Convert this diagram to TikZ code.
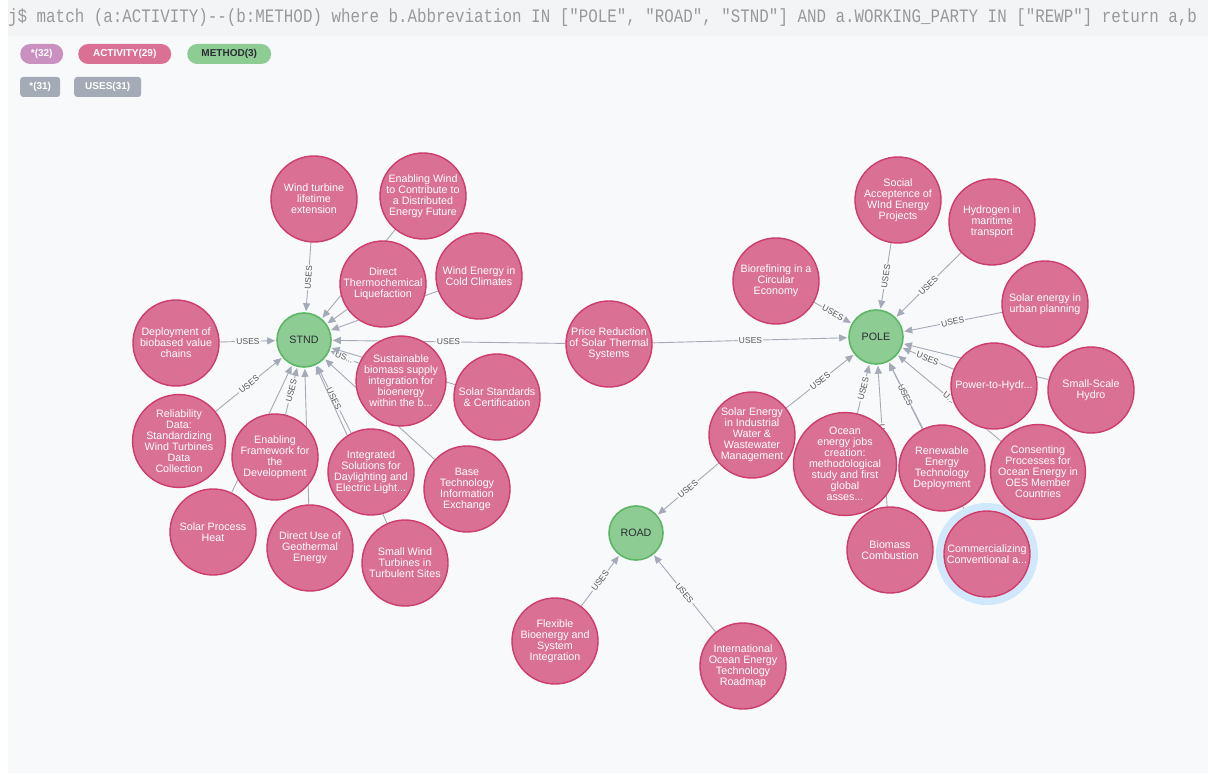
\documentclass[tikz,border=0pt]{standalone}
\usepackage{fontspec}
\usepackage{graphicx}
\setmainfont{Liberation Sans}
\setmonofont{Liberation Mono}
\usetikzlibrary{arrows.meta}
\definecolor{panelbg}{HTML}{F8F9FB}
\definecolor{querybg}{HTML}{F3F4F6}
\definecolor{querytext}{HTML}{999999}
\definecolor{actfill}{HTML}{DA7194}
\definecolor{actline}{HTML}{CC3C6C}
\definecolor{methfill}{HTML}{8DCC93}
\definecolor{methline}{HTML}{5DB665}
\definecolor{methtext}{HTML}{2A2C34}
\definecolor{anyfill}{HTML}{C990C0}
\definecolor{relgray}{HTML}{A5ABB6}
\definecolor{lblgray}{HTML}{555555}
\definecolor{selring}{HTML}{CFE8FC}
\pgfdeclarelayer{back}
\pgfdeclarelayer{edges}
\pgfsetlayers{back,edges,main}
\tikzset{%
  activity/.style = {circle, draw=actline, line width=1.4pt, fill=actfill,%
                     minimum size=86pt, inner sep=0pt, align=center,%
                     text=white, font=\fontsize{10.7}{11}\selectfont},%
  method/.style   = {circle, draw=methline, line width=1.6pt, fill=methfill,%
                     minimum size=54pt, inner sep=0pt,%
                     text=methtext, font=\fontsize{10.7}{12}\selectfont},%
  uses/.style     = {draw=relgray, line width=0.9pt,%
                     -{Triangle[length=8pt,width=7pt]}, shorten >=1pt},%
  lbl/.style      = {sloped, fill=panelbg, inner sep=1.2pt, text=lblgray,%
                     font=\fontsize{8.5}{9}\selectfont},%
  pill/.style     = {rounded corners=10pt, anchor=west, minimum height=20pt,%
                     inner sep=0pt, text=white,%
                     font=\bfseries\fontsize{10}{11}\selectfont},%
  tag/.style      = {pill, rounded corners=3pt, fill=relgray}%
}
\begin{document}
\begin{tikzpicture}[x=1pt,y=-1pt]
\useasboundingbox (0,0) rectangle (1208,775);
\begin{pgfonlayer}{back}
\fill[white] (0,0) rectangle (1208,775);
\fill[querybg] (8,0) rectangle (1208,36);
\fill[panelbg] (8,36) rectangle (1208,773);
\end{pgfonlayer}
\node (query) [anchor=west, inner sep=0pt, text=querytext,
  font=\ttfamily\fontsize{15.85}{16}\selectfont] at (8,18)
  {\scalebox{1}[1.2]{j\$ match (a:ACTIVITY)--(b:METHOD) where b.Abbreviation IN ["POLE", "ROAD", "STND"] AND a.WORKING\_PARTY IN ["REWP"] return a,b}};

\node (anyn)  [pill, fill=anyfill, minimum width=43pt] at (20,54) {*(32)};
\node (actn)  [pill, fill=actfill, minimum width=93pt] at (78,54) {ACTIVITY(29)};
\node (methn) [pill, fill=methfill, text=methtext, minimum width=84pt] at (187,54) {METHOD(3)};
\node (anyr)  [tag, minimum width=40pt] at (20,87) {*(31)};
\node (usesr) [tag, minimum width=67pt] at (74,87) {USES(31)};

\node (stnd) [method] at (304,340) {STND};
\node (pole) [method] at (876,337) {POLE};
\node (road) [method] at (636,533) {ROAD};

\node (wtl) [activity] at (314,199) {Wind turbine\\lifetime\\extension};
\node (ewd) [activity] at (423,196) {Enabling Wind\\to Contribute to\\a Distributed\\Energy Future};
\node (dtl) [activity] at (383,284) {Direct\\Thermochemical\\Liquefaction};
\node (wcc) [activity] at (479,276) {Wind Energy in\\Cold Climates};
\node (dbv) [activity] at (176,343) {Deployment of\\biobased value\\chains};
\node (sbs) [activity] at (401,381) {Sustainable\\biomass supply\\integration for\\bioenergy\\within the b...};
\node (ssc) [activity] at (497,397) {Solar Standards\\\& Certification};
\node (rel) [activity] at (179,441) {Reliability\\Data:\\Standardizing\\Wind Turbines\\Data\\Collection};
\node (efd) [activity] at (275,457) {Enabling\\Framework for\\the\\Development};
\node (isd) [activity] at (371,472) {Integrated\\Solutions for\\Daylighting and\\Electric Light...};
\node (bti) [activity] at (467,489) {Base\\Technology\\Information\\Exchange};
\node (sph) [activity] at (213,532) {Solar Process\\Heat};
\node (dug) [activity] at (310,548) {Direct Use of\\Geothermal\\Energy};
\node (swt) [activity] at (405,563) {Small Wind\\Turbines in\\Turbulent Sites};
\node (prs) [activity] at (609,344) {Price Reduction\\of Solar Thermal\\Systems};

\node (saw) [activity] at (898,200) {Social\\Acceptence of\\WInd Energy\\Projects};
\node (hmt) [activity] at (992,222) {Hydrogen in\\maritime\\transport};
\node (bce) [activity] at (776,281) {Biorefining in a\\Circular\\Economy};
\node (seu) [activity] at (1045,304) {Solar energy in\\urban planning};
\node (pth) [activity] at (994,386) {Power-to-Hydr...};
\node (ssh) [activity] at (1091,390) {Small-Scale\\Hydro};
\node (sei) [activity] at (752,435) {Solar Energy\\in Industrial\\Water \&\\Wastewater\\Management};
\node (oej) [activity] at (845,464) {Ocean\\energy jobs\\creation:\\methodological\\study and first\\global\\asses...};
\node (ret) [activity] at (942,468) {Renewable\\Energy\\Technology\\Deployment};
\node (cpo) [activity] at (1038,472) {Consenting\\Processes for\\Ocean Energy in\\OES Member\\Countries};
\node (bmc) [activity] at (890,550) {Biomass\\Combustion};
\node (cca) [activity] at (987,554) {Commercializing\\Conventional a...};

\node (fbs) [activity] at (555,641) {Flexible\\Bioenergy and\\System\\Integration};
\node (ioe) [activity] at (743,666) {International\\Ocean Energy\\Technology\\Roadmap};

\begin{pgfonlayer}{edges}
\draw[uses] (wtl) -- node[lbl] {USES} (stnd);
\draw[uses] (ewd) -- (stnd);
\draw[uses] (dtl) -- (stnd);
\draw[uses] (wcc) -- (stnd);
\draw[uses] (dbv) -- node[lbl] {USES} (stnd);
\draw[uses] (prs) -- node[lbl] {USES} (stnd);
\draw[uses] (sbs) -- node[lbl] {US...} (stnd);
\draw[uses] (ssc) -- (stnd);
\draw[uses] (rel) -- node[lbl] {USES} (stnd);
\draw[uses] (efd) -- node[lbl] {USES} (stnd);
\draw[uses] (isd) -- node[lbl] {USES} (stnd);
\draw[uses] (bti) -- (stnd);
\draw[uses] (sph) -- (stnd);
\draw[uses] (dug) -- (stnd);
\draw[uses] (swt) -- (stnd);

\draw[uses] (prs) -- node[lbl] {USES} (pole);
\draw[uses] (saw) -- node[lbl] {USES} (pole);
\draw[uses] (hmt) -- node[lbl] {USES} (pole);
\draw[uses] (bce) -- node[lbl] {USES} (pole);
\draw[uses] (seu) -- node[lbl] {USES} (pole);
\draw[uses] (pth) -- node[lbl] {USES} (pole);
\draw[uses] (ssh) -- (pole);
\draw[uses] (sei) -- node[lbl] {USES} (pole);
\draw[uses] (oej) -- node[lbl] {USES} (pole);
\draw[uses] (bmc) -- node[lbl] {USES} (pole);
\draw[uses] (ret) -- node[lbl] {USES} (pole);
\draw[uses] (cpo) -- node[lbl] {U...} (pole);
\draw[uses] (cca) -- (pole);

\draw[uses] (sei) -- node[lbl] {USES} (road);
\draw[uses] (fbs) -- node[lbl] {USES} (road);
\draw[uses] (ioe) -- node[lbl] {USES} (road);

\draw[selring, line width=7pt] (cca) circle (47.5pt);
\end{pgfonlayer}
\end{tikzpicture}
\end{document}
